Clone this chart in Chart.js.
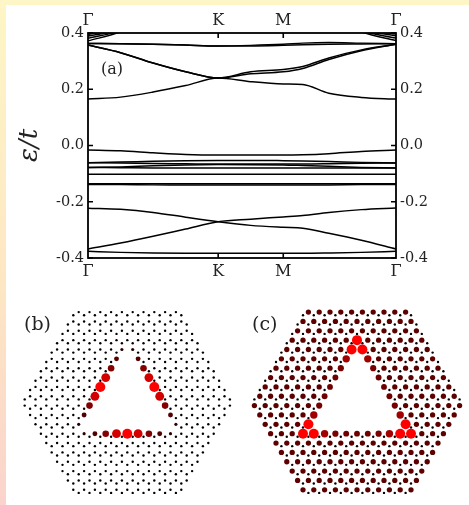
<!DOCTYPE html>
<html>
<head>
<meta charset="utf-8">
<script src="https://cdn.jsdelivr.net/npm/chart.js@4.4.0/dist/chart.umd.min.js"></script>
<style>
  html, body { margin: 0; padding: 0; }
  body {
    width: 469px; height: 505px; overflow: hidden; position: relative;
    background: linear-gradient(to bottom, #fdf6c6 0%, #fde7c3 55%, #fbd3cd 100%);
  }
  #panel { position: absolute; left: 6px; top: 5px; width: 463px; height: 500px; background: #fff; }
  canvas { position: absolute; }
  .lbl { position: absolute; font-family: 'DejaVu Serif', serif; color: #222; line-height: 1; }
</style>
</head>
<body>
<div id="panel"></div>
<canvas id="bands" width="469" height="290" style="left:0;top:0"></canvas>
<canvas id="latB" width="230" height="215" style="left:6px;top:290px"></canvas>
<canvas id="latC" width="233" height="215" style="left:236px;top:290px"></canvas>
<div class="lbl" style="left:101px;top:61px;font-size:16px">(a)</div>
<div class="lbl" style="left:24px;top:314px;font-size:19px">(b)</div>
<div class="lbl" style="left:252px;top:314px;font-size:19px">(c)</div>

<script>
/* ---------- band structure data (panel a) ---------- */
const kPath = [0, 0.25, 0.5, 0.75, 1, 1.25, 1.5, 1.65, 1.85, 2.1, 2.366];
const symPoints = [0, 1, 1.5, 2.366];
const symLabels = ['Γ', 'K', 'M', 'Γ'];
const energyTicks = [-0.4, -0.2, 0, 0.2, 0.4];

// bands leaving the window near Γ
const fanA = [0.372, 0.404, 0.46, 0.5, 0.5, 0.5, 0.5, 0.5, 0.46, 0.404, 0.373];
const fanB = [0.381, 0.408, 0.46, 0.5, 0.5, 0.5, 0.5, 0.5, 0.46, 0.408, 0.382];
const fanC = [0.389, 0.412, 0.46, 0.5, 0.5, 0.5, 0.5, 0.5, 0.46, 0.412, 0.39];
const fanD = [0.395, 0.418, 0.46, 0.5, 0.5, 0.5, 0.5, 0.5, 0.46, 0.418, 0.396];
// upper group
const topA = [0.363, 0.362, 0.36, 0.357, 0.354, 0.356, 0.36, 0.364, 0.366, 0.364, 0.362];
const topB = [0.363, 0.362, 0.36, 0.357, 0.354, 0.354, 0.356, 0.358, 0.36, 0.361, 0.362];
const upA = [0.357, 0.33, 0.293, 0.262, 0.24, 0.255, 0.262, 0.274, 0.306, 0.337, 0.36];
const upB = [0.357, 0.33, 0.293, 0.262, 0.24, 0.262, 0.27, 0.281, 0.311, 0.34, 0.36];
const lowA = [0.165, 0.172, 0.19, 0.213, 0.24, 0.227, 0.219, 0.217, 0.186, 0.171, 0.165];
// flat bands around zero
const zeroA = [-0.016, -0.019, -0.026, -0.032, -0.034, -0.034, -0.034, -0.033, -0.029, -0.021, -0.016];
const zeroB = [-0.061, -0.059, -0.056, -0.054, -0.053, -0.053, -0.054, -0.055, -0.057, -0.06, -0.062];
const zeroC = [-0.061, -0.062, -0.064, -0.065, -0.066, -0.066, -0.066, -0.066, -0.065, -0.063, -0.062];
const zeroD = [-0.078, -0.076, -0.072, -0.069, -0.068, -0.068, -0.069, -0.071, -0.074, -0.078, -0.08];
const zeroE = [-0.078, -0.079, -0.08, -0.08, -0.08, -0.08, -0.08, -0.08, -0.08, -0.08, -0.08];
const zeroF = [-0.102, -0.102, -0.102, -0.102, -0.102, -0.102, -0.102, -0.102, -0.102, -0.102, -0.102];
const zeroG = [-0.136, -0.136, -0.136, -0.136, -0.136, -0.136, -0.136, -0.136, -0.136, -0.136, -0.136];
const zeroH = [-0.139, -0.139, -0.14, -0.14, -0.14, -0.14, -0.14, -0.14, -0.14, -0.139, -0.139];
// lower group
const dnA = [-0.223, -0.227, -0.238, -0.255, -0.271, -0.284, -0.291, -0.294, -0.312, -0.337, -0.368];
const dnB = [-0.368, -0.347, -0.323, -0.297, -0.271, -0.262, -0.254, -0.249, -0.238, -0.228, -0.222];
const dnC = [-0.376, -0.38, -0.382, -0.383, -0.383, -0.383, -0.383, -0.383, -0.382, -0.38, -0.376];

const bands = [fanA, fanB, fanC, fanD, topA, topB, upA, upB, lowA,
  zeroA, zeroB, zeroC, zeroD, zeroE, zeroF, zeroG, zeroH, dnA, dnB, dnC];

/* ---------- lattice data (panels b, c) ---------- */
// triangular hole corners, in A-lattice indices (i, j)
const holeCorners = [[-1, 0], [9, 0], [-1, 10]];
// flake half-height in rows of the A lattice
const flakeApothemRows = [29 / 3];
// weight of the 9 edge sites of each hole side (corner to corner)
const edgeWeightB = [0.1, 0.33, 0.55, 0.85, 1.0, 0.85, 0.55, 0.33, 0.1];
const edgeWeightC = [1.0, 0.66, 0.5, 0.46, 0.45, 0.46, 0.5, 0.66, 1.0];
const cornerWeightB = [0, 0, 0];
const cornerWeightC = [1, 1, 1];
const bulkWeightB = [0, 0];     // [A, B sublattice]
const bulkWeightC = [0.38, 0];

const SERIF = "'DejaVu Serif', serif";
const H = Math.sqrt(3) / 2;
const D = 1 / Math.sqrt(3);
const CELL = 10.8; // px per lattice constant

/* ---------- panel a ---------- */
const frameTicks = {
  id: 'frameTicks',
  afterDraw(chart) {
    const { ctx, chartArea: a, scales } = chart;
    ctx.save();
    ctx.strokeStyle = '#000';
    ctx.lineWidth = 1.8;
    ctx.strokeRect(a.left, a.top, a.right - a.left, a.bottom - a.top);
    ctx.lineWidth = 1.6;
    ctx.beginPath();
    energyTicks.forEach(v => {
      const py = scales.y.getPixelForValue(v);
      ctx.moveTo(a.left, py); ctx.lineTo(a.left + 5, py);
      ctx.moveTo(a.right, py); ctx.lineTo(a.right - 5, py);
    });
    symPoints.slice(1, 3).forEach(v => {
      const px = scales.x.getPixelForValue(v);
      ctx.moveTo(px, a.top); ctx.lineTo(px, a.top + 5);
      ctx.moveTo(px, a.bottom); ctx.lineTo(px, a.bottom - 5);
    });
    ctx.stroke();
    ctx.restore();
  }
};

function kAxis(pos, h) {
  return {
    type: 'linear', position: pos, min: 0, max: symPoints[symPoints.length - 1],
    grid: { display: false, drawTicks: false }, border: { display: false },
    afterBuildTicks: s => { s.ticks = symPoints.map(v => ({ value: v })); },
    afterFit: s => { s.height = h; },
    ticks: {
      autoSkip: false, maxRotation: 0, padding: pos === 'top' ? 3 : 4,
      color: '#222', font: { family: SERIF, size: 16 },
      callback: (v, i) => symLabels[i]
    }
  };
}

function eAxis(pos, w, withTitle) {
  return {
    type: 'linear', position: pos, min: -0.4, max: 0.4,
    grid: { display: false, drawTicks: false }, border: { display: false },
    afterBuildTicks: s => { s.ticks = energyTicks.map(v => ({ value: v })); },
    afterFit: s => { s.width = w; },
    ticks: {
      padding: 4, color: '#222', font: { family: SERIF, size: 14.5 },
      callback: v => v.toFixed(1)
    },
    title: {
      display: withTitle, text: 'ε/t', color: '#222',
      font: { family: SERIF, size: 26, style: 'italic' },
      padding: { top: 15, bottom: 0 }
    }
  };
}

new Chart(document.getElementById('bands'), {
  type: 'line',
  data: {
    datasets: bands.map(b => ({
      data: kPath.map((k, i) => ({ x: k, y: b[i] })),
      borderColor: '#000', borderWidth: 1.5, pointRadius: 0,
      cubicInterpolationMode: 'monotone', fill: false
    }))
  },
  options: {
    responsive: false, animation: false, parsing: false,
    layout: { padding: 0 },
    plugins: { legend: { display: false }, tooltip: { enabled: false } },
    scales: {
      x: kAxis('bottom', 32),
      x2: kAxis('top', 33),
      y: eAxis('left', 88, true),
      y2: eAxis('right', 73, false)
    }
  },
  plugins: [frameTicks]
});

/* ---------- panels b, c ---------- */
function siteWeight(i, j, s, edgeW, cornerW, bulkW) {
  if (s === 0) {
    const c = holeCorners.findIndex(p => p[0] === i && p[1] === j);
    if (c >= 0) return cornerW[c];
    if (j === 0 && i >= 0 && i <= 8) return edgeW[i];
    if (i === -1 && j >= 1 && j <= 9) return edgeW[j - 1];
    if (i === 9 - j && j >= 1 && j <= 9) return edgeW[j - 1];
  }
  return bulkW[s];
}

function buildFlake(edgeW, cornerW, bulkW) {
  const [c0, c1, c2] = holeCorners;
  const cx = (c0[0] + c1[0] + c2[0]) / 3 + (c0[1] + c1[1] + c2[1]) / 6;
  const cy = (c0[1] + c1[1] + c2[1]) / 3 * H;
  const apo = flakeApothemRows[0] * H;
  const x0 = c0[0] + c0[1] / 2, x1 = c1[0] + c1[1] / 2, yb = c0[1] * H;
  const pts = [];
  for (let j = -12; j <= 18; j++) {
    for (let i = -22; i <= 22; i++) {
      for (const s of [0, 1]) {
        const x = i + j / 2, y = j * H + s * D;
        const dx = x - cx, dy = y - cy;
        let inHex = true;
        for (let a = 30; a < 360; a += 60) {
          const r = a * Math.PI / 180;
          if (dx * Math.cos(r) + dy * Math.sin(r) > apo + 0.05) { inHex = false; break; }
        }
        if (!inHex) continue;
        const inHole = y - yb > 0.05 &&
          Math.sqrt(3) * (x - x0) - (y - yb) > 0.05 &&
          Math.sqrt(3) * (x1 - x) - (y - yb) > 0.05;
        if (inHole) continue;
        const w = siteWeight(i, j, s, edgeW, cornerW, bulkW);
        pts.push({ x, y, w, r: w > 0 ? 1.2 + 3.8 * w : 1.2 });
      }
    }
  }
  pts.sort((p, q) => p.w - q.w);
  return { pts, cx, cy };
}

function dotColor(w) {
  return w > 0 ? `rgb(${Math.round(30 + 225 * Math.pow(w, 1.3))},0,0)` : '#000';
}

function drawFlake(id, canvasLeft, canvasTop, w, h, centerPx, edgeW, cornerW, bulkW) {
  const { pts, cx, cy } = buildFlake(edgeW, cornerW, bulkW);
  const xmin = cx - (centerPx[0] - canvasLeft) / CELL;
  const ymax = cy + (centerPx[1] - canvasTop) / CELL;
  new Chart(document.getElementById(id), {
    type: 'bubble',
    data: {
      datasets: [{
        data: pts,
        backgroundColor: c => dotColor(c.raw ? c.raw.w : 0),
        borderWidth: 0
      }]
    },
    options: {
      responsive: false, animation: false,
      layout: { padding: 0, autoPadding: false },
      plugins: { legend: { display: false }, tooltip: { enabled: false } },
      scales: {
        x: { display: false, min: xmin, max: xmin + w / CELL },
        y: { display: false, min: ymax - h / CELL, max: ymax }
      }
    }
  });
}

drawFlake('latB', 6, 290, 230, 215, [127.3, 402.5], edgeWeightB, cornerWeightB, bulkWeightB);
drawFlake('latC', 236, 290, 233, 215, [357, 402.5], edgeWeightC, cornerWeightC, bulkWeightC);
</script>
</body>
</html>
